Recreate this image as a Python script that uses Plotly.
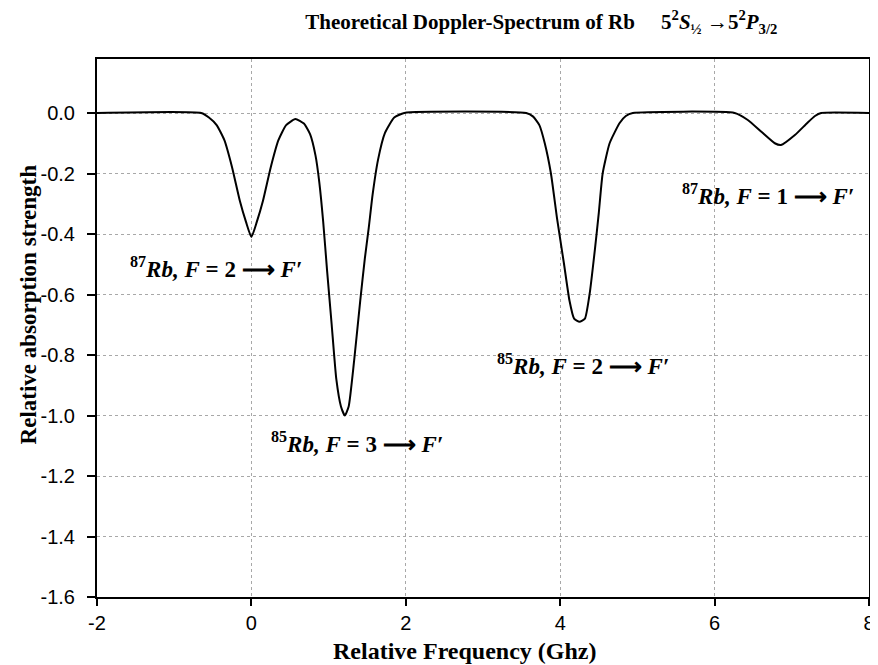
import plotly.graph_objects as go

freq = [-2.0, -0.65, -0.55, -0.45, -0.35, -0.25, -0.15, -0.07, 0.0, 0.07, 0.15, 0.25, 0.35, 0.45,
        0.57, 0.68, 0.76, 0.83, 0.88, 0.93, 0.98, 1.04, 1.10, 1.16, 1.21, 1.26, 1.33, 1.41, 1.47,
        1.52, 1.57, 1.64, 1.73, 1.85, 1.98, 3.56, 3.65, 3.73, 3.80, 3.88, 3.96, 4.05, 4.12, 4.18, 4.25,
        4.32, 4.38, 4.45, 4.50, 4.55, 4.64, 4.77, 4.85, 4.94, 6.26, 6.43, 6.61, 6.78, 6.86, 7.04, 7.20,
        7.30, 7.38, 8.0]
absorption = [0.0, 0.0, -0.015, -0.04, -0.09, -0.18, -0.29, -0.36, -0.41, -0.36, -0.29, -0.18, -0.09, -0.04,
              -0.02, -0.035, -0.07, -0.14, -0.23, -0.36, -0.52, -0.70, -0.88, -0.97, -1.0, -0.97, -0.82, -0.62, -0.48,
              -0.38, -0.27, -0.155, -0.066, -0.015, 0.0, 0.0, -0.012, -0.04, -0.10, -0.20, -0.35, -0.50, -0.62, -0.68, -0.69,
              -0.68, -0.60, -0.45, -0.33, -0.20, -0.10, -0.033, -0.01, 0.0, 0.0, -0.023, -0.063, -0.10, -0.106, -0.073, -0.033,
              -0.01, 0.0, 0.0]

x_ticks = [-2, 0, 2, 4, 6, 8]
x_tick_text = ["-2", "0", "2", "4", "6", "8"]
y_ticks = [0.0, -0.2, -0.4, -0.6, -0.8, -1.0, -1.2, -1.4, -1.6]
y_tick_text = ["0.0", "-0.2", "-0.4", "-0.6", "-0.8", "-1.0", "-1.2", "-1.4", "-1.6"]

label_text = [
    "<b><sup>87</sup><i>Rb, F</i> = 2 ⟶ <i>F′</i></b>",
    "<b><sup>85</sup><i>Rb, F</i> = 3 ⟶ <i>F′</i></b>",
    "<b><sup>85</sup><i>Rb, F</i> = 2 ⟶ <i>F′</i></b>",
    "<b><sup>87</sup><i>Rb, F</i> = 1 ⟶ <i>F′</i></b>",
]
label_x = [-0.46, 1.37, 4.30, 6.69]
label_y = [-0.51, -1.09, -0.83, -0.27]

x_title = "<b>Relative Frequency (Ghz)</b>"
y_title = "<b>Relative absorption strength</b>"

fig = go.Figure()
fig.add_trace(go.Scatter(x=freq, y=absorption, mode="lines",
                         line=dict(color="black", width=2, shape="spline", smoothing=0.5),
                         showlegend=False))

for t, lx, ly in zip(label_text, label_x, label_y):
    fig.add_annotation(x=lx, y=ly, text=t, showarrow=False,
                       font=dict(family="Liberation Serif", size=23, color="black"))

fig.add_annotation(xref="paper", yref="paper", x=0.477, y=-0.1, text=x_title,
                   showarrow=False, xanchor="center", yanchor="middle",
                   font=dict(family="Liberation Serif", size=24, color="black"))
fig.add_annotation(xref="paper", yref="paper", x=-0.0887, y=0.543, text=y_title,
                   showarrow=False, xanchor="center", yanchor="middle", textangle=-90,
                   font=dict(family="Liberation Serif", size=23, color="black"))

nb = "\u00a0"
title = ("<b>Theoretical Doppler-Spectrum of Rb</b>" + nb * 5 +
         "<b>5<sup>2</sup><i>S</i><sub>½</sub> →5<sup>2</sup><i>P</i><sub>3/2</sub></b>")

fig.update_layout(
    width=870, height=657,
    paper_bgcolor="white", plot_bgcolor="white",
    margin=dict(l=89, r=3, t=51, b=68),
    title=dict(text=title, x=0.613, xanchor="center", y=0.979, yanchor="middle",
               font=dict(family="Liberation Serif", size=21, color="black")),
    xaxis=dict(range=[-2, 8], tickvals=x_ticks, ticktext=x_tick_text,
               showline=True, linecolor="black", linewidth=2, mirror=True,
               ticks="outside", ticklen=7, tickcolor="black", tickwidth=1.5,
               ticklabelstandoff=0, ticklabeloverflow="allow",
               showgrid=True, gridcolor="#a8a8a8", griddash="dot", gridwidth=1,
               zeroline=False,
               tickfont=dict(family="Liberation Sans", size=20, color="black")),
    yaxis=dict(range=[-1.6, 0.1785], tickvals=y_ticks, ticktext=y_tick_text,
               showline=True, linecolor="black", linewidth=2, mirror=True,
               ticks="outside", ticklen=8, tickcolor="black", tickwidth=1.5,
               ticklabelstandoff=8,
               showgrid=True, gridcolor="#a8a8a8", griddash="dot", gridwidth=1,
               zeroline=False,
               tickfont=dict(family="Liberation Sans", size=20, color="black")),
)

fig.write_html("out.html")
